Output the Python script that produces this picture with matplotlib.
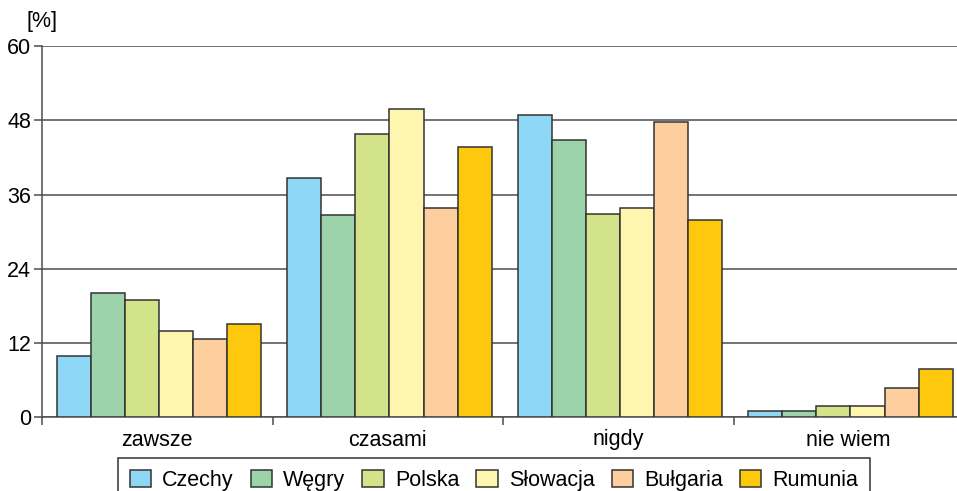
import matplotlib
matplotlib.use("Agg")
import matplotlib.pyplot as plt
import numpy as np

plt.rcParams['font.family'] = ['Liberation Sans', 'DejaVu Sans']

categories = ["zawsze", "czasami", "nigdy", "nie wiem"]
countries = ["Czechy", "Węgry", "Polska", "Słowacja", "Bułgaria", "Rumunia"]
czechy = [9.9, 38.7, 48.8, 0.9]
wegry = [20.0, 32.7, 44.9, 0.9]
polska = [19.0, 45.8, 32.8, 1.8]
slowacja = [14.0, 49.9, 33.8, 1.8]
bulgaria = [12.7, 33.8, 47.8, 4.7]
rumunia = [15.0, 43.7, 31.9, 7.7]
series = [czechy, wegry, polska, slowacja, bulgaria, rumunia]
colors = ["#8ED8F5", "#9DD3AA", "#D3E389", "#FEF5AF", "#FDCF9E", "#FEC90D"]
yticks = [0, 12, 24, 36, 48, 60]

FS = 15.5
W, H = 957, 491
fig = plt.figure(figsize=(W / 100, H / 100), dpi=100)
left, right = 42 / W, 964 / W
bottom, top = 1 - 417 / H, 1 - 46.3 / H
ax = fig.add_axes([left, bottom, right - left, top - bottom])

x = np.arange(len(categories))
w = 34 / 230
handles = []
for i, (vals, c, name) in enumerate(zip(series, colors, countries)):
    b = ax.bar(x + (i - 2.45) * w, vals, width=w, color=c, edgecolor="#333333",
               linewidth=1.1, label=name, zorder=3)
    handles.append(b)

ax.set_xlim(-0.5, len(categories) - 0.5)
ax.set_ylim(0, 60)
ax.set_yticks(yticks)
ax.set_yticklabels([str(v) for v in yticks], fontsize=FS)
ax.yaxis.grid(True, color="#4d4d4d", linewidth=1.1, zorder=0)
ax.set_axisbelow(True)

ax.set_xticks(np.arange(-0.5, len(categories) + 0.5, 1.0))
ax.set_xticklabels([])
ax.set_xticks(x, minor=True)
ax.set_xticklabels(categories, minor=True, fontsize=FS)
ax.tick_params(axis="x", which="minor", length=0, pad=9)
ax.tick_params(axis="x", which="major", length=6, width=1.1, color="#4d4d4d", direction="out")
ax.tick_params(axis="y", length=6, width=1.1, color="#4d4d4d", direction="out", pad=2)

for s in ["top", "right"]:
    ax.spines[s].set_visible(False)
ax.spines["left"].set_color("#4d4d4d")
ax.spines["bottom"].set_color("#4d4d4d")
ax.spines["left"].set_linewidth(1.1)
ax.spines["bottom"].set_linewidth(1.1)

fig.text(27 / W, 1 - 22 / H, "[%]", fontsize=FS, va="center", ha="left")

leg = fig.legend(handles=handles, labels=countries, loc="upper left",
                 bbox_to_anchor=(118 / W, 1 - 458 / H), ncol=6, fontsize=FS,
                 frameon=True, fancybox=False, framealpha=1, edgecolor="#333333",
                 handlelength=1.0, handleheight=0.8, handletextpad=0.5,
                 columnspacing=0.8, borderpad=0.55, borderaxespad=0)
leg.get_frame().set_linewidth(1.1)

fig.savefig("out.png", dpi=100)
